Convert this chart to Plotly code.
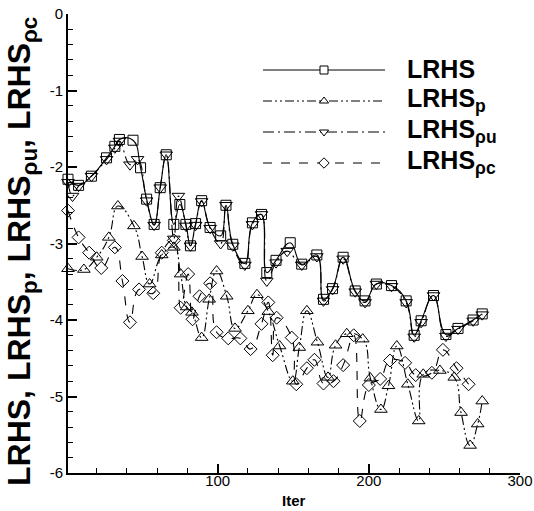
import plotly.graph_objects as go

# ---------------- data ----------------
iter_lrhs = [1, 8, 16.5, 26.5, 32, 35, 44, 49, 53, 58, 62, 66, 71, 75, 79, 82, 85.4, 89.4,
             95, 102, 105.5, 110, 118, 123, 129, 132.5, 138.6, 148, 155.6, 165.6, 170, 176,
             183, 191, 197.5, 205, 215, 224.7, 230, 234.6, 242.8, 251, 259, 269, 275]
lrhs = [-2.16, -2.24, -2.12, -1.88, -1.73, -1.64, -1.65, -2.01, -2.42, -2.75, -2.27, -1.84,
        -2.75, -2.49, -2.75, -3.03, -2.74, -2.44, -2.79, -2.90, -2.50, -3.01, -3.26, -2.73,
        -2.62, -3.38, -3.22, -2.99, -3.27, -3.15, -3.73, -3.59, -3.18, -3.62, -3.75, -3.53,
        -3.55, -3.75, -4.20, -4.01, -3.68, -4.19, -4.11, -4.00, -3.92]

iter_p = [1, 11.5, 20, 28, 34, 44.6, 50, 55, 63, 71, 75.5, 79.5, 83, 89.4, 94.4, 99.3, 106,
          111.5, 120, 126, 133.5, 141, 149.7, 154, 159, 166, 173, 178, 185.4, 196, 201, 208,
          213, 218.5, 225.8, 233, 236, 247, 256.5, 261, 267, 272, 275]
lrhs_p = [-3.33, -3.34, -3.18, -2.92, -2.51, -2.77, -3.17, -3.53, -3.15, -3.05, -3.40, -3.83,
          -3.90, -4.23, -3.73, -3.36, -3.69, -4.11, -3.88, -3.67, -3.89, -4.34, -4.80, -4.36,
          -3.88, -4.29, -4.75, -4.33, -4.18, -4.25, -4.76, -5.17, -4.86, -4.34, -4.84, -5.32,
          -4.71, -4.66, -4.75, -5.21, -5.64, -5.36, -5.06]

iter_ru = [1, 4, 8, 16.5, 26.5, 32, 35, 42, 47, 53, 58, 62, 66, 71, 74, 79, 82, 85.4, 89.4,
           95, 102, 105.5, 110, 118, 123, 129, 132.5, 138.6, 146, 155.6, 165.6, 170, 176, 183,
           191, 197.5, 205, 215, 224.7, 230, 234.6, 242.8, 251, 259, 269, 275]
lrhs_ru = [-2.20, -2.38, -2.25, -2.12, -1.90, -1.75, -1.66, -1.97, -1.90, -2.44, -2.76, -2.27,
           -1.84, -2.94, -2.38, -2.77, -3.03, -2.76, -2.45, -2.80, -3.00, -2.50, -3.03, -3.28,
           -2.75, -2.62, -3.49, -3.25, -3.10, -3.28, -3.17, -3.75, -3.60, -3.20, -3.63, -3.77,
           -3.53, -3.56, -3.77, -4.22, -4.03, -3.68, -4.21, -4.12, -4.01, -3.93]

iter_rc = [1, 8, 15, 23, 32, 37, 42, 48, 57.4, 63, 71, 75.5, 80.5, 83.4, 88, 95, 99.3, 107,
           115, 121.8, 129, 133.5, 136.4, 139, 149, 152, 159, 164, 170, 176.6, 183, 190, 194,
           200, 207.5, 214, 224, 231, 241.7, 249, 258, 266]
lrhs_rc = [-2.57, -2.92, -3.12, -3.32, -3.05, -3.49, -4.03, -3.60, -3.65, -3.12, -2.96, -3.84,
           -3.40, -3.99, -3.69, -3.52, -4.16, -4.24, -4.24, -4.38, -4.05, -3.77, -4.46, -3.97,
           -4.23, -4.84, -4.63, -4.52, -4.83, -4.80, -4.59, -4.20, -5.32, -4.85, -4.77, -4.53,
           -4.56, -4.72, -4.69, -4.39, -4.63, -4.84]

x_tickvals = [100, 200, 300]
x_ticktext = ["100", "200", "300"]
y_tickvals = [0, -1, -2, -3, -4, -5, -6]
y_ticktext = ["0", "-1", "-2", "-3", "-4", "-5", "-6"]

legend_labels = ["LRHS", "LRHS<sub>p</sub>", "LRHS<sub>ρu</sub>", "LRHS<sub>ρc</sub>"]
y_title = "LRHS, LRHS<sub>p</sub>, LRHS<sub>ρu</sub>, LRHS<sub>ρc</sub>"
x_title = "Iter"

# ---------------- styles ----------------
W, H = 534, 511
L, R, T, B = 68, 520, 14, 473  # plot area in pixels
FONT = "Liberation Sans, Arial, sans-serif"

styles = [
    dict(dash="solid", symbol="square-open", size=10),
    dict(dash="9px,3px,2px,3px,2px,3px", symbol="triangle-up-open", size=11),
    dict(dash="11px,4px,2px,4px", symbol="triangle-down-open", size=11),
    dict(dash="9px,9px", symbol="diamond-open", size=10),
]
series = [(iter_lrhs, lrhs), (iter_p, lrhs_p), (iter_ru, lrhs_ru), (iter_rc, lrhs_rc)]

fig = go.Figure()
for (xs, ys), st in zip(series, styles):
    fig.add_trace(go.Scatter(
        x=xs, y=ys, mode="lines+markers",
        line=dict(color="black", width=1.1, dash=st["dash"], shape="spline", smoothing=1.3),
        marker=dict(symbol=st["symbol"], size=st["size"], color="black",
                    line=dict(color="black", width=1)),
        showlegend=False, cliponaxis=False))

# ---------------- hand-made legend (pixel overlay axes) ----------------
row_y = [70, 101, 132, 163]
line_x0, line_x1, mark_x, text_x = 263, 385, 324, 405
for st, ry, lab in zip(styles, row_y, legend_labels):
    fig.add_trace(go.Scatter(
        x=[line_x0, line_x1], y=[ry, ry], mode="lines", xaxis="x2", yaxis="y2",
        line=dict(color="black", width=1, dash=st["dash"]), showlegend=False))
    fig.add_trace(go.Scatter(
        x=[mark_x], y=[ry], mode="markers", xaxis="x2", yaxis="y2",
        marker=dict(symbol=st["symbol"].replace("-open", ""), size=8, color="white",
                    line=dict(color="black", width=1)), showlegend=False))
    fig.add_annotation(
        x=(text_x - L) / (R - L), y=(B - ry + 1) / (B - T), xref="paper", yref="paper",
        xanchor="left", yanchor="middle", showarrow=False,
        text="<b>" + lab + "</b>", font=dict(family=FONT, size=25, color="black"))

# axis titles
fig.add_annotation(
    x=(21 - L) / (R - L), y=(B - 252) / (B - T), xref="paper", yref="paper",
    xanchor="center", yanchor="middle", showarrow=False, textangle=-90,
    text="<b>" + y_title + "</b>", font=dict(family=FONT, size=32, color="black"))
fig.add_annotation(
    x=0.5, y=(B - 500) / (B - T), xref="paper", yref="paper",
    xanchor="center", yanchor="middle", showarrow=False,
    text="<b>" + x_title + "</b>", font=dict(family=FONT, size=15, color="black"))

fig.update_layout(
    width=W, height=H,
    margin=dict(l=L, r=W - R, t=T, b=H - B, autoexpand=False),
    paper_bgcolor="white", plot_bgcolor="white",
    font=dict(family=FONT, size=15, color="black"),
    xaxis=dict(range=[1, 300], showgrid=False, zeroline=False, showline=True,
               linecolor="black", linewidth=2, ticks="inside", ticklen=9, tickwidth=2,
               tickcolor="black", tickvals=x_tickvals, ticktext=x_ticktext,
               tickfont=dict(size=15), ticklabelstandoff=-7,
               minor=dict(ticks="inside", ticklen=5, tickwidth=1, tickcolor="black",
                          tick0=0, dtick=20, showgrid=False)),
    yaxis=dict(range=[-6, 0], showgrid=False, zeroline=False, showline=True,
               linecolor="black", linewidth=2, ticks="inside", ticklen=9, tickwidth=2,
               tickcolor="black", tickvals=y_tickvals, ticktext=y_ticktext,
               tickfont=dict(size=15),
               minor=dict(ticks="inside", ticklen=5, tickwidth=1, tickcolor="black",
                          tick0=0, dtick=0.2, showgrid=False)),
    xaxis2=dict(range=[L, R], overlaying="x", visible=False, fixedrange=True),
    yaxis2=dict(range=[B, T], overlaying="y", visible=False, fixedrange=True),
)

fig.write_html("out.html")
